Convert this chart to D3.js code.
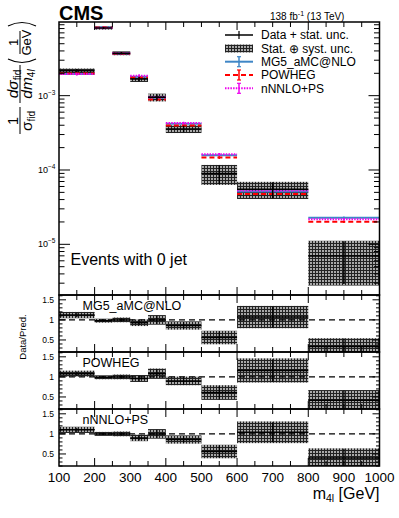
<!DOCTYPE html>
<html>
<head>
<meta charset="utf-8">
<script src="https://cdn.jsdelivr.net/npm/d3@7"></script>
<style>
body { margin: 0; background: #fff; }
text { font-family: "Liberation Sans", Arial, Helvetica, sans-serif; }
</style>
</head>
<body>
<div id="chart"></div>
<script>
// m4l bins, events with 0 jet
var binEdges = [100, 200, 250, 300, 350, 400, 500, 600, 800, 1000];
var dataVals = [2.17e-3, 8.15e-3, 3.72e-3, 1.68e-3, 9.5e-4, 3.57e-4, 9.0e-5, 5.5e-5, 6.97e-6];
var statUnc = [0.05, 0.03, 0.04, 0.07, 0.1, 0.1, 0.28, 0.24, 0.58];
var totUnc = [0.07, 0.05, 0.06, 0.09, 0.12, 0.12, 0.3, 0.26, 0.6];
var mg5Vals = [1.96e-3, 8.3e-3, 3.72e-3, 1.8e-3, 9.4e-4, 4.2e-4, 1.58e-4, 5.15e-5, 2.28e-5];
var powhegVals = [1.98e-3, 8.25e-3, 3.7e-3, 1.75e-3, 8.9e-4, 3.98e-4, 1.47e-4, 4.75e-5, 2.01e-5];
var nnloVals = [1.95e-3, 8.15e-3, 3.72e-3, 1.86e-3, 9.5e-4, 4.28e-4, 1.63e-4, 5.3e-5, 2.18e-5];
var ratioMg5 = [1.12, 0.98, 1.0, 0.93, 1.0, 0.86, 0.56, 1.07, 0.34];
var ratioPowheg = [1.08, 0.99, 1.0, 0.96, 1.08, 0.9, 0.61, 1.16, 0.42];
var ratioNnlo = [1.1, 1.0, 1.0, 0.9, 1.0, 0.86, 0.56, 1.04, 0.4];
var xTickLabels = [100, 200, 300, 400, 500, 600, 700, 800, 900, 1000];
var ratioTickLabels = [0.5, 1, 1.5];

var W = 399, H = 518;
var L = 59, R = 379.5;
var mainTop = 22, mainBot = 295;
var ratioTops = [295, 352, 409], ratioH = 57;

var series = [
  { name: "MG5_aMC@NLO", vals: mg5Vals, ratio: ratioMg5, color: "#3f86c6", dash: null },
  { name: "POWHEG", vals: powhegVals, ratio: ratioPowheg, color: "#ff0000", dash: "5,3" },
  { name: "nNNLO+PS", vals: nnloVals, ratio: ratioNnlo, color: "#ee00ee", dash: "1.5,1.2" }
];

var svg = d3.select("#chart").append("svg").attr("width", W).attr("height", H);
var defs = svg.append("defs");
var pat = defs.append("pattern").attr("id", "hatch")
  .attr("patternUnits", "userSpaceOnUse").attr("width", 3).attr("height", 3);
pat.append("rect").attr("width", 3).attr("height", 3).attr("fill", "#222");
pat.append("rect").attr("x", 1).attr("y", 1).attr("width", 2).attr("height", 2).attr("fill", "#a8a8a8");

function addClip(id, top, bot) {
  defs.append("clipPath").attr("id", id).append("rect")
    .attr("x", L).attr("y", top).attr("width", R - L).attr("height", bot - top);
}

var x = d3.scaleLinear().domain([100, 1000]).range([L, R]);
var yMain = d3.scaleLog().domain([2.08e-6, 9.8e-3]).range([mainBot, mainTop]);

var bins = dataVals.map(function (v, i) {
  return { i: i, lo: binEdges[i], hi: binEdges[i + 1], mid: (binEdges[i] + binEdges[i + 1]) / 2, v: v };
});

// ---------- main panel ----------
addClip("clipMain", mainTop, mainBot);
var gMain = svg.append("g").attr("clip-path", "url(#clipMain)");

gMain.selectAll(".box").data(bins).enter().append("rect")
  .attr("x", function (d) { return x(d.lo); })
  .attr("width", function (d) { return x(d.hi) - x(d.lo); })
  .attr("y", function (d) { return yMain(d.v * (1 + totUnc[d.i])); })
  .attr("height", function (d) { return yMain(d.v * (1 - totUnc[d.i])) - yMain(d.v * (1 + totUnc[d.i])); })
  .attr("fill", "url(#hatch)");

series.forEach(function (s) {
  gMain.selectAll(null).data(bins).enter().append("line")
    .attr("x1", function (d) { return x(d.lo); })
    .attr("x2", function (d) { return x(d.hi); })
    .attr("y1", function (d) { return yMain(s.vals[d.i]); })
    .attr("y2", function (d) { return yMain(s.vals[d.i]); })
    .attr("stroke", s.color).attr("stroke-width", 2)
    .attr("stroke-dasharray", s.dash);
  gMain.selectAll(null).data(bins).enter().append("line")
    .attr("x1", function (d) { return x(d.mid); })
    .attr("x2", function (d) { return x(d.mid); })
    .attr("y1", function (d) { return yMain(s.vals[d.i] * 1.04); })
    .attr("y2", function (d) { return yMain(s.vals[d.i] * 0.96); })
    .attr("stroke", s.color).attr("stroke-width", 1.5);
});

gMain.selectAll(null).data(bins).enter().append("line")
  .attr("x1", function (d) { return x(d.lo); })
  .attr("x2", function (d) { return x(d.hi); })
  .attr("y1", function (d) { return yMain(d.v); })
  .attr("y2", function (d) { return yMain(d.v); })
  .attr("stroke", "#000").attr("stroke-width", 1.5);
gMain.selectAll(null).data(bins).enter().append("line")
  .attr("x1", function (d) { return x(d.mid); })
  .attr("x2", function (d) { return x(d.mid); })
  .attr("y1", function (d) { return yMain(d.v * (1 + statUnc[d.i])); })
  .attr("y2", function (d) { return yMain(d.v * (1 - statUnc[d.i])); })
  .attr("stroke", "#000").attr("stroke-width", 1.5);

// ---------- ratio panels ----------
series.forEach(function (s, k) {
  var top = ratioTops[k], bot = top + ratioH;
  var yR = d3.scaleLinear().domain([0.2, 1.62]).range([bot, top]);
  s.yR = yR;
  addClip("clipR" + k, top, bot);
  var g = svg.append("g").attr("clip-path", "url(#clipR" + k + ")");

  g.selectAll(null).data(bins).enter().append("rect")
    .attr("x", function (d) { return x(d.lo); })
    .attr("width", function (d) { return x(d.hi) - x(d.lo); })
    .attr("y", function (d) { return yR(s.ratio[d.i] * (1 + totUnc[d.i])); })
    .attr("height", function (d) { return yR(s.ratio[d.i] * (1 - totUnc[d.i])) - yR(s.ratio[d.i] * (1 + totUnc[d.i])); })
    .attr("fill", "url(#hatch)");

  g.append("line").attr("x1", L).attr("x2", R).attr("y1", yR(1)).attr("y2", yR(1))
    .attr("stroke", "#000").attr("stroke-width", 1.2).attr("stroke-dasharray", "6,4");

  g.selectAll(null).data(bins).enter().append("line")
    .attr("x1", function (d) { return x(d.lo); })
    .attr("x2", function (d) { return x(d.hi); })
    .attr("y1", function (d) { return yR(s.ratio[d.i]); })
    .attr("y2", function (d) { return yR(s.ratio[d.i]); })
    .attr("stroke", "#000").attr("stroke-width", 1.5);
  g.selectAll(null).data(bins).enter().append("line")
    .attr("x1", function (d) { return x(d.mid); })
    .attr("x2", function (d) { return x(d.mid); })
    .attr("y1", function (d) { return yR(s.ratio[d.i] * (1 + statUnc[d.i])); })
    .attr("y2", function (d) { return yR(s.ratio[d.i] * (1 - statUnc[d.i])); })
    .attr("stroke", "#000").attr("stroke-width", 1.2);

  svg.append("text").attr("x", 82.5).attr("y", top + 15)
    .style("font-size", "12.5px").text(s.name);
});

// ---------- axes / ticks ----------
var axes = svg.append("g").attr("stroke", "#000").attr("fill", "none");

function xTicks(top, bot) {
  for (var v = 150; v < 1000; v += 50) {
    var len = (v % 200 === 0) ? 8 : 5;
    axes.append("line").attr("x1", x(v)).attr("x2", x(v)).attr("y1", bot).attr("y2", bot - len).attr("stroke-width", 1);
    axes.append("line").attr("x1", x(v)).attr("x2", x(v)).attr("y1", top).attr("y2", top + len).attr("stroke-width", 1);
  }
}
xTicks(mainTop, mainBot);
ratioTops.forEach(function (t) { xTicks(t, t + ratioH); });

// log y ticks, main panel
yMain.ticks().forEach(function (t) {
  var m = t / Math.pow(10, Math.floor(Math.log10(t) + 1e-9));
  var major = Math.abs(m - 1) < 1e-6;
  var len = major ? 11 : 5.5;
  axes.append("line").attr("x1", L).attr("x2", L + len).attr("y1", yMain(t)).attr("y2", yMain(t)).attr("stroke-width", 1);
  axes.append("line").attr("x1", R).attr("x2", R - len).attr("y1", yMain(t)).attr("y2", yMain(t)).attr("stroke-width", 1);
  if (major) {
    var e = Math.round(Math.log10(t));
    var lab = svg.append("text").attr("x", 55.5).attr("y", yMain(t) + 3)
      .attr("text-anchor", "end").style("font-size", "9px");
    lab.append("tspan").text("10");
    lab.append("tspan").attr("dy", -4).style("font-size", "6.5px").text("\u2212" + (-e));
  }
});

// ratio y ticks
series.forEach(function (s) {
  var yR = s.yR;
  for (var k = 2; k <= 16; k++) {
    var v = k / 10;
    var major = (k % 5 === 0);
    var len = major ? 7 : 3.5;
    axes.append("line").attr("x1", L).attr("x2", L + len).attr("y1", yR(v)).attr("y2", yR(v)).attr("stroke-width", 1);
    axes.append("line").attr("x1", R).attr("x2", R - len).attr("y1", yR(v)).attr("y2", yR(v)).attr("stroke-width", 1);
  }
  ratioTickLabels.forEach(function (v) {
    svg.append("text").attr("x", 54).attr("y", yR(v) + 3)
      .attr("text-anchor", "end").style("font-size", "8.5px").text(v);
  });
});

// frames
axes.append("rect").attr("x", L).attr("y", mainTop).attr("width", R - L).attr("height", mainBot - mainTop).attr("stroke-width", 1.5);
ratioTops.forEach(function (t) {
  axes.append("rect").attr("x", L).attr("y", t).attr("width", R - L).attr("height", ratioH).attr("stroke-width", 1.5);
});

// x tick labels
xTickLabels.forEach(function (v) {
  svg.append("text").attr("x", x(v)).attr("y", 481.5).attr("text-anchor", "middle")
    .style("font-size", "13.5px").text(v);
});

var xt = svg.append("text").attr("x", R).attr("y", 498.5).attr("text-anchor", "end").style("font-size", "16px");
xt.append("tspan").text("m");
xt.append("tspan").attr("dy", 3).style("font-size", "10.5px").text("4l");
xt.append("tspan").attr("dy", -3).text(" [GeV]");

// y title, rotated
var tg = svg.append("g").attr("transform", "translate(20,0) rotate(-90)");
tg.append("text").attr("x", -121).attr("y", -2.5).attr("text-anchor", "middle").style("font-size", "14.5px").text("1");
tg.append("line").attr("x1", -134).attr("x2", -107).attr("y1", 0).attr("y2", 0).attr("stroke", "#000").attr("stroke-width", 1);
var t1 = tg.append("text").attr("x", -121).attr("y", 11.5).attr("text-anchor", "middle").style("font-size", "15.5px");
t1.append("tspan").text("\u03c3");
t1.append("tspan").attr("dy", 3).style("font-size", "10px").text("fid");

var t2 = tg.append("text").attr("x", -84).attr("y", -2.5).attr("text-anchor", "middle").style("font-size", "15.5px");
t2.append("tspan").style("font-style", "italic").text("d\u03c3");
t2.append("tspan").attr("dy", 3).style("font-size", "10px").text("fid");
tg.append("line").attr("x1", -103).attr("x2", -65).attr("y1", 0).attr("y2", 0).attr("stroke", "#000").attr("stroke-width", 1);
var t3 = tg.append("text").attr("x", -84).attr("y", 11.5).attr("text-anchor", "middle").style("font-size", "15.5px");
t3.append("tspan").style("font-style", "italic").text("dm");
t3.append("tspan").attr("dy", 3).style("font-size", "10px").text("4");
t3.append("tspan").style("font-size", "10px").style("font-style", "italic").text("l");

tg.append("path").attr("d", "M -59 -12 Q -66 2 -59 16").attr("fill", "none").attr("stroke", "#000").attr("stroke-width", 1.2);
tg.append("path").attr("d", "M -26 -12 Q -19 2 -26 16").attr("fill", "none").attr("stroke", "#000").attr("stroke-width", 1.2);
tg.append("text").attr("x", -42.5).attr("y", -2.5).attr("text-anchor", "middle").style("font-size", "13px").text("1");
tg.append("line").attr("x1", -54).attr("x2", -31).attr("y1", 0).attr("y2", 0).attr("stroke", "#000").attr("stroke-width", 1);
tg.append("text").attr("x", -42.5).attr("y", 11).attr("text-anchor", "middle").style("font-size", "13px").text("GeV");

svg.append("text").attr("transform", "translate(25.5,337) rotate(-90)").attr("text-anchor", "middle")
  .style("font-size", "9.5px").text("Data/Pred.");

// header texts
svg.append("text").attr("x", L).attr("y", 20).style("font-size", "20px").style("font-weight", "bold").text("CMS");
var lumi = svg.append("text").attr("x", 270).attr("y", 19.5).style("font-size", "10px");
lumi.append("tspan").text("138 fb");
lumi.append("tspan").attr("dy", -4).style("font-size", "7px").text("-1");
lumi.append("tspan").attr("dy", 4).text(" (13 TeV)");

svg.append("text").attr("x", 70.5).attr("y", 265).style("font-size", "16px").text("Events with 0 jet");

// legend
var lg = svg.append("g");
var lx0 = 225, lx1 = 253, lxm = 239, ltx = 261;
var rows = [35, 48.5, 61.7, 75, 88.3];
lg.append("line").attr("x1", lx0).attr("x2", lx1).attr("y1", rows[0]).attr("y2", rows[0]).attr("stroke", "#000").attr("stroke-width", 1.5);
lg.append("line").attr("x1", lxm).attr("x2", lxm).attr("y1", rows[0] - 4).attr("y2", rows[0] + 4).attr("stroke", "#000").attr("stroke-width", 1.2);
lg.append("rect").attr("x", lx0).attr("y", rows[1] - 4).attr("width", lx1 - lx0).attr("height", 8).attr("fill", "url(#hatch)");
series.forEach(function (s, k) {
  var yy = rows[k + 2];
  lg.append("line").attr("x1", lx0).attr("x2", lx1).attr("y1", yy).attr("y2", yy)
    .attr("stroke", s.color).attr("stroke-width", 2).attr("stroke-dasharray", s.dash);
  lg.append("line").attr("x1", lxm).attr("x2", lxm).attr("y1", yy - 5).attr("y2", yy + 5)
    .attr("stroke", s.color).attr("stroke-width", 1.5);
  lg.append("line").attr("x1", lxm - 2).attr("x2", lxm + 2).attr("y1", yy - 5).attr("y2", yy - 5)
    .attr("stroke", s.color).attr("stroke-width", 1.2);
  lg.append("line").attr("x1", lxm - 2).attr("x2", lxm + 2).attr("y1", yy + 5).attr("y2", yy + 5)
    .attr("stroke", s.color).attr("stroke-width", 1.2);
});
var legendLabels = ["Data + stat. unc.", "Stat. \u2295 syst. unc.", "MG5_aMC@NLO", "POWHEG", "nNNLO+PS"];
legendLabels.forEach(function (t, k) {
  lg.append("text").attr("x", ltx).attr("y", rows[k] + 4.2).style("font-size", "12px").text(t);
});
</script>
</body>
</html>
